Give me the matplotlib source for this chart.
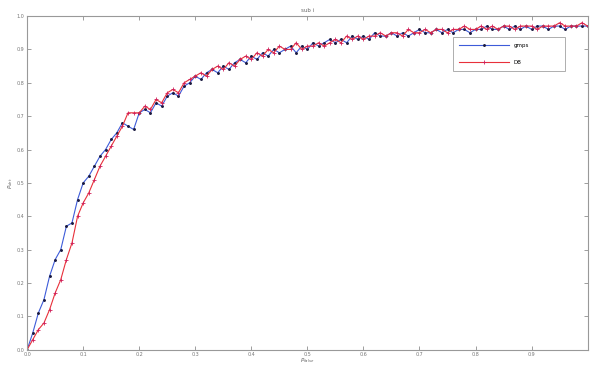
import matplotlib
matplotlib.use("Agg")
import matplotlib.pyplot as plt

# false alarm rate grid
p_fa = [0.00, 0.01, 0.02, 0.03, 0.04, 0.05, 0.06, 0.07, 0.08, 0.09,
        0.10, 0.11, 0.12, 0.13, 0.14, 0.15, 0.16, 0.17, 0.18, 0.19,
        0.20, 0.21, 0.22, 0.23, 0.24, 0.25, 0.26, 0.27, 0.28, 0.29,
        0.30, 0.31, 0.32, 0.33, 0.34, 0.35, 0.36, 0.37, 0.38, 0.39,
        0.40, 0.41, 0.42, 0.43, 0.44, 0.45, 0.46, 0.47, 0.48, 0.49,
        0.50, 0.51, 0.52, 0.53, 0.54, 0.55, 0.56, 0.57, 0.58, 0.59,
        0.60, 0.61, 0.62, 0.63, 0.64, 0.65, 0.66, 0.67, 0.68, 0.69,
        0.70, 0.71, 0.72, 0.73, 0.74, 0.75, 0.76, 0.77, 0.78, 0.79,
        0.80, 0.81, 0.82, 0.83, 0.84, 0.85, 0.86, 0.87, 0.88, 0.89,
        0.90, 0.91, 0.92, 0.93, 0.94, 0.95, 0.96, 0.97, 0.98, 0.99, 1.00]

# detection rate, first method (blue)
pd_gmps = [0.00, 0.05, 0.11, 0.15, 0.22, 0.27, 0.30, 0.37, 0.38, 0.45,
           0.50, 0.52, 0.55, 0.58, 0.60, 0.63, 0.65, 0.68, 0.67, 0.66,
           0.71, 0.72, 0.71, 0.74, 0.73, 0.76, 0.77, 0.76, 0.79, 0.80,
           0.82, 0.81, 0.83, 0.84, 0.83, 0.85, 0.84, 0.86, 0.87, 0.86,
           0.88, 0.87, 0.89, 0.88, 0.90, 0.89, 0.90, 0.91, 0.89, 0.91,
           0.90, 0.92, 0.91, 0.92, 0.93, 0.92, 0.93, 0.92, 0.94, 0.93,
           0.94, 0.93, 0.95, 0.94, 0.94, 0.95, 0.94, 0.95, 0.94, 0.95,
           0.96, 0.95, 0.95, 0.96, 0.95, 0.96, 0.95, 0.96, 0.96, 0.95,
           0.96, 0.96, 0.97, 0.96, 0.96, 0.97, 0.96, 0.97, 0.96, 0.97,
           0.96, 0.97, 0.97, 0.96, 0.97, 0.97, 0.96, 0.97, 0.97, 0.97, 0.97]

# detection rate, second method (red)
pd_db = [0.00, 0.03, 0.06, 0.08, 0.12, 0.17, 0.21, 0.27, 0.32, 0.40,
         0.44, 0.47, 0.51, 0.55, 0.58, 0.61, 0.64, 0.67, 0.71, 0.71,
         0.71, 0.73, 0.72, 0.75, 0.74, 0.77, 0.78, 0.77, 0.80, 0.81,
         0.82, 0.83, 0.82, 0.84, 0.85, 0.84, 0.86, 0.85, 0.87, 0.88,
         0.87, 0.89, 0.88, 0.90, 0.89, 0.91, 0.90, 0.90, 0.92, 0.90,
         0.91, 0.91, 0.92, 0.91, 0.92, 0.93, 0.92, 0.94, 0.93, 0.94,
         0.93, 0.94, 0.94, 0.95, 0.94, 0.95, 0.95, 0.94, 0.96, 0.95,
         0.95, 0.96, 0.95, 0.96, 0.96, 0.95, 0.96, 0.96, 0.97, 0.96,
         0.96, 0.97, 0.96, 0.97, 0.96, 0.97, 0.97, 0.96, 0.97, 0.97,
         0.97, 0.96, 0.97, 0.97, 0.97, 0.98, 0.97, 0.97, 0.97, 0.98, 0.97]

x_ticks = [0, 0.1, 0.2, 0.3, 0.4, 0.5, 0.6, 0.7, 0.8, 0.9]
y_ticks = [0, 0.1, 0.2, 0.3, 0.4, 0.5, 0.6, 0.7, 0.8, 0.9, 1]

fig = plt.figure(figsize=(5.9, 3.65), dpi=100)
ax = fig.add_axes([0.046, 0.042, 0.95, 0.914])

ax.plot(p_fa, pd_gmps, color="#3d5bd9", lw=0.8, marker=".", ms=2.2,
        mfc="#1a1a40", mec="#1a1a40", label="gmps")
ax.plot(p_fa, pd_db, color="#e8303a", lw=0.8, marker="+", ms=2.8,
        mec="#d0205a", mew=0.6, label="DB")

ax.set_xlim(0, 1)
ax.set_ylim(0, 1)
ax.set_xticks(x_ticks)
ax.set_yticks(y_ticks)
ax.tick_params(direction="in", length=3, width=0.5, labelsize=3.5,
               colors="#777777", top=True, right=True, pad=2)
for s in ax.spines.values():
    s.set_color("#999999")
    s.set_linewidth(0.8)

ax.set_title("sub i", fontsize=4, color="#666666", pad=3)
ax.set_xlabel("$P_{false}$", fontsize=4, color="#666666", labelpad=-1)
ax.set_ylabel("$P_{det}$", fontsize=4, color="#666666", labelpad=1)

leg = ax.legend(loc="upper left", bbox_to_anchor=(0.759, 0.815, 0.2, 0.123),
                mode="expand", fontsize=4, frameon=True, fancybox=False,
                edgecolor="#999999", handlelength=9, borderpad=1.2,
                labelspacing=2.0, borderaxespad=0)
leg.get_frame().set_linewidth(0.7)

fig.savefig("out.png", dpi=100)
